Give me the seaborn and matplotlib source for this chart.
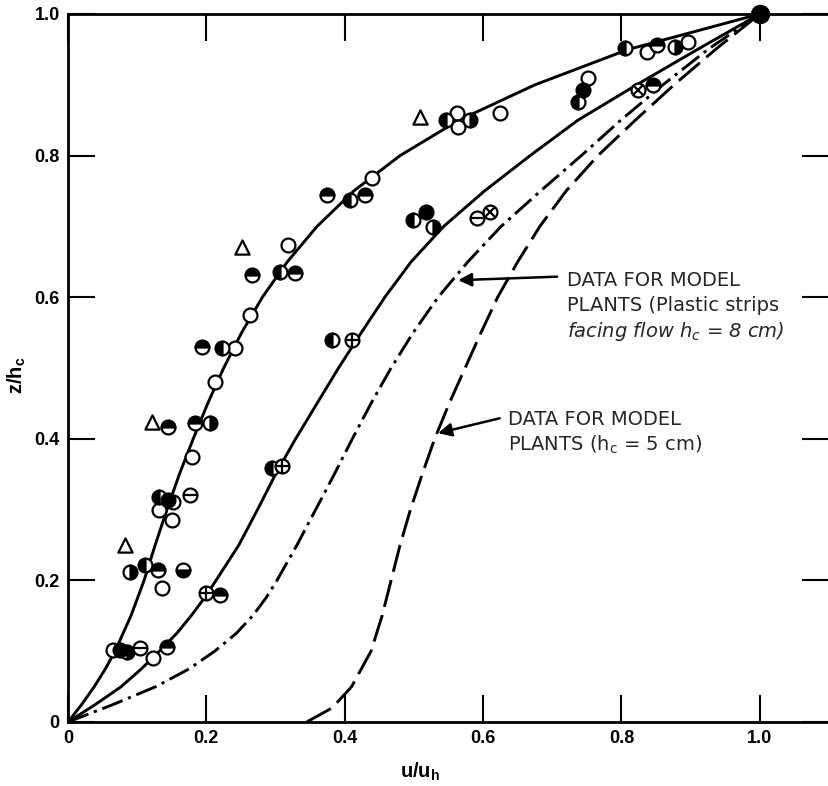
import matplotlib
matplotlib.use("Agg")
import matplotlib.pyplot as plt
import numpy as np
import pandas as pd
import seaborn as sns

# ---------------- data ----------------
# curve A (solid, left)
a_y = [0, 0.025, 0.05, 0.075, 0.1, 0.15, 0.2, 0.25, 0.3, 0.35, 0.4, 0.45, 0.5, 0.55,
       0.6, 0.65, 0.7, 0.75, 0.8, 0.85, 0.9, 0.95, 1.0]
a_x = [0, 0.020, 0.038, 0.054, 0.068, 0.091, 0.110, 0.126, 0.143, 0.161, 0.181, 0.202,
       0.225, 0.251, 0.281, 0.317, 0.360, 0.413, 0.480, 0.565, 0.675, 0.810, 1.0]
# curve B (solid, second)
b_y = [0, 0.025, 0.05, 0.075, 0.1, 0.125, 0.15, 0.175, 0.2, 0.25, 0.3, 0.35, 0.4, 0.45,
       0.5, 0.55, 0.6, 0.65, 0.7, 0.75, 0.8, 0.85, 0.9, 0.95, 1.0]
b_x = [0, 0.040, 0.077, 0.106, 0.132, 0.157, 0.178, 0.197, 0.214, 0.247, 0.274, 0.300,
       0.329, 0.360, 0.391, 0.424, 0.458, 0.496, 0.543, 0.602, 0.668, 0.737, 0.822,
       0.910, 1.0]
# curve C (dash-dot): model plants, plastic strips, hc = 8 cm
c_y = [0, 0.025, 0.05, 0.075, 0.1, 0.125, 0.15, 0.175, 0.2, 0.25, 0.3, 0.35, 0.4, 0.45,
       0.5, 0.55, 0.6, 0.65, 0.7, 0.75, 0.8, 0.85, 0.9, 0.95, 1.0]
c_x = [0, 0.066, 0.127, 0.175, 0.212, 0.243, 0.267, 0.286, 0.302, 0.331, 0.358, 0.385,
       0.411, 0.438, 0.467, 0.499, 0.535, 0.578, 0.626, 0.683, 0.742, 0.799, 0.860,
       0.925, 1.0]
# curve D (dashed): model plants, hc = 5 cm
d_y = [0, 0.02, 0.05, 0.1, 0.15, 0.2, 0.25, 0.3, 0.35, 0.4, 0.45, 0.5, 0.55, 0.6,
       0.65, 0.7, 0.75, 0.8, 0.85, 0.9, 0.95, 1.0]
d_x = [0.345, 0.382, 0.410, 0.438, 0.454, 0.467, 0.480, 0.495, 0.512, 0.530, 0.551,
       0.574, 0.597, 0.621, 0.650, 0.682, 0.720, 0.766, 0.820, 0.876, 0.936, 1.0]

# measured points by symbol
open_x = [0.318, 0.263, 0.241, 0.212, 0.439, 0.179, 0.152, 0.131, 0.150, 0.136, 0.065,
          0.123, 0.562, 0.564, 0.624, 0.751, 0.837, 0.896]
open_y = [0.674, 0.575, 0.528, 0.48, 0.768, 0.374, 0.311, 0.3, 0.285, 0.189, 0.102,
          0.09, 0.86, 0.84, 0.86, 0.909, 0.946, 0.96]
left_x = [0.408, 0.306, 0.223, 0.382, 0.131, 0.295, 0.111, 0.547, 0.737, 0.805, 0.499]
left_y = [0.737, 0.636, 0.528, 0.54, 0.318, 0.359, 0.222, 0.85, 0.876, 0.952, 0.709]
right_x = [0.205, 0.09, 0.085, 0.581, 0.877, 0.528]
right_y = [0.422, 0.212, 0.099, 0.85, 0.953, 0.699]
top_x = [0.374, 0.429, 0.266, 0.328, 0.194, 0.145, 0.184, 0.13, 0.22, 0.143, 0.851, 0.846]
top_y = [0.744, 0.744, 0.631, 0.634, 0.53, 0.417, 0.422, 0.215, 0.179, 0.106, 0.956, 0.9]
bottom_x = [0.166]
bottom_y = [0.215]
full_x = [0.145, 0.075, 0.518, 0.744]
full_y = [0.313, 0.102, 0.72, 0.893]
minus_x = [0.176, 0.104, 0.591]
minus_y = [0.32, 0.105, 0.712]
plus_x = [0.41, 0.309, 0.2]
plus_y = [0.54, 0.361, 0.182]
cross_x = [0.61, 0.824]
cross_y = [0.72, 0.893]
tri_x = [0.251, 0.121, 0.082, 0.509]
tri_y = [0.671, 0.424, 0.25, 0.855]
top_pt_x = [1.0]
top_pt_y = [1.0]

x_ticks = [0, 0.2, 0.4, 0.6, 0.8, 1.0]
x_ticklabels = ["0", "0.2", "0.4", "0.6", "0.8", "1.0"]
y_ticks = [0, 0.2, 0.4, 0.6, 0.8, 1.0]
y_ticklabels = ["0", "0.2", "0.4", "0.6", "0.8", "1.0"]

# ---------------- style ----------------
sns.set_theme(style="white")
plt.rcParams["font.family"] = ["Liberation Sans", "DejaVu Sans"]
plt.rcParams["mathtext.default"] = "regular"

W, H = 829, 786
fig = plt.figure(figsize=(W / 100, H / 100), dpi=100)
ax = fig.add_axes([68 / W, 64 / H, 761 / W, 708 / H])
ax.set_xlim(0, 1.1)
ax.set_ylim(0, 1.0)

LW = 2.1
sns.lineplot(x=a_x, y=a_y, sort=False, estimator=None, color="black", lw=LW, ax=ax)
sns.lineplot(x=b_x, y=b_y, sort=False, estimator=None, color="black", lw=LW, ax=ax)
sns.lineplot(x=c_x, y=c_y, sort=False, estimator=None, color="black", lw=LW,
             linestyle=(0, (7.5, 2.0, 1.1, 2.0)), ax=ax)
sns.lineplot(x=d_x, y=d_y, sort=False, estimator=None, color="black", lw=LW,
             linestyle=(0, (9.5, 2.9)), ax=ax)

MS = 10
MEW = 1.6

def half(xs, ys, fs):
    ax.plot(xs, ys, ls="none", marker="o", ms=MS, mew=MEW, mec="black",
            mfc="black", mfcalt="white", fillstyle=fs, zorder=5)

sns.scatterplot(x=open_x, y=open_y, marker="o", s=MS ** 2, color="white",
                edgecolor="black", linewidth=MEW, zorder=5, ax=ax)
half(left_x, left_y, "left")
half(right_x, right_y, "right")
half(top_x, top_y, "top")
half(bottom_x, bottom_y, "bottom")
sns.scatterplot(x=full_x, y=full_y, marker="o", s=MS ** 2, color="black",
                edgecolor="black", linewidth=MEW, zorder=5, ax=ax)
for xs, ys, sym in [(minus_x, minus_y, "_"), (plus_x, plus_y, "+"), (cross_x, cross_y, "x")]:
    ax.plot(xs, ys, ls="none", marker="o", ms=MS, mew=MEW, mec="black", mfc="white", zorder=5)
    ax.plot(xs, ys, ls="none", marker=sym, ms=MS * (0.72 if sym == "x" else 1.0),
            mew=MEW, mec="black", zorder=6)
sns.scatterplot(x=tri_x, y=tri_y, marker="^", s=MS ** 2 * 1.05, color="white",
                edgecolor="black", linewidth=MEW, zorder=5, ax=ax)
ax.plot(top_pt_x, top_pt_y, ls="none", marker="o", ms=13, color="black",
        zorder=7, clip_on=False)

# ---------------- axes ----------------
for s in ["left", "bottom", "top"]:
    ax.spines[s].set_linewidth(2.0)
    ax.spines[s].set_color("black")
ax.spines["right"].set_visible(False)

ax.set_xticks(x_ticks)
ax.set_xticklabels(x_ticklabels)
ax.set_yticks(y_ticks)
ax.set_yticklabels(y_ticklabels)
ax.tick_params(direction="in", length=19.5, width=1.5, color="black",
               top=True, right=True, bottom=True, left=True,
               labelsize=13, pad=6, labelcolor="black")
for lab in ax.get_xticklabels() + ax.get_yticklabels():
    lab.set_fontweight("bold")

ax.set_xlabel("u/u$_h$", fontsize=14.5, fontweight="bold", color="black")
ax.xaxis.set_label_coords(0.462, -0.055)
ax.set_ylabel("z/h$_c$", fontsize=14.5, fontweight="bold", color="black")
ax.yaxis.set_label_coords(-0.052, 0.49)

# ---------------- annotations ----------------
TF = ["DejaVu Sans"]
TS = 14
arrow = dict(arrowstyle="-|>", color="black", lw=1.8, mutation_scale=20,
             shrinkA=0, shrinkB=0)
ax.annotate("", xy=(0.564, 0.624), xytext=(0.707, 0.629), arrowprops=arrow, zorder=8)
ax.text(0.721, 0.624, "DATA FOR MODEL", family=TF, fontsize=TS, va="center", ha="left")
ax.text(0.721, 0.588, "PLANTS (Plastic strips", family=TF, fontsize=TS, va="center", ha="left")
ax.text(0.721, 0.552, "facing flow h$_c$ = 8 cm)", family=TF, fontsize=TS, va="center",
        ha="left", style="italic")

ax.annotate("", xy=(0.535, 0.408), xytext=(0.624, 0.429), arrowprops=arrow, zorder=8)
ax.text(0.636, 0.427, "DATA FOR MODEL", family=TF, fontsize=TS, va="center", ha="left")
ax.text(0.636, 0.391, "PLANTS (h$_c$ = 5 cm)", family=TF, fontsize=TS, va="center", ha="left")

fig.savefig("out.png", dpi=100, facecolor="white")
